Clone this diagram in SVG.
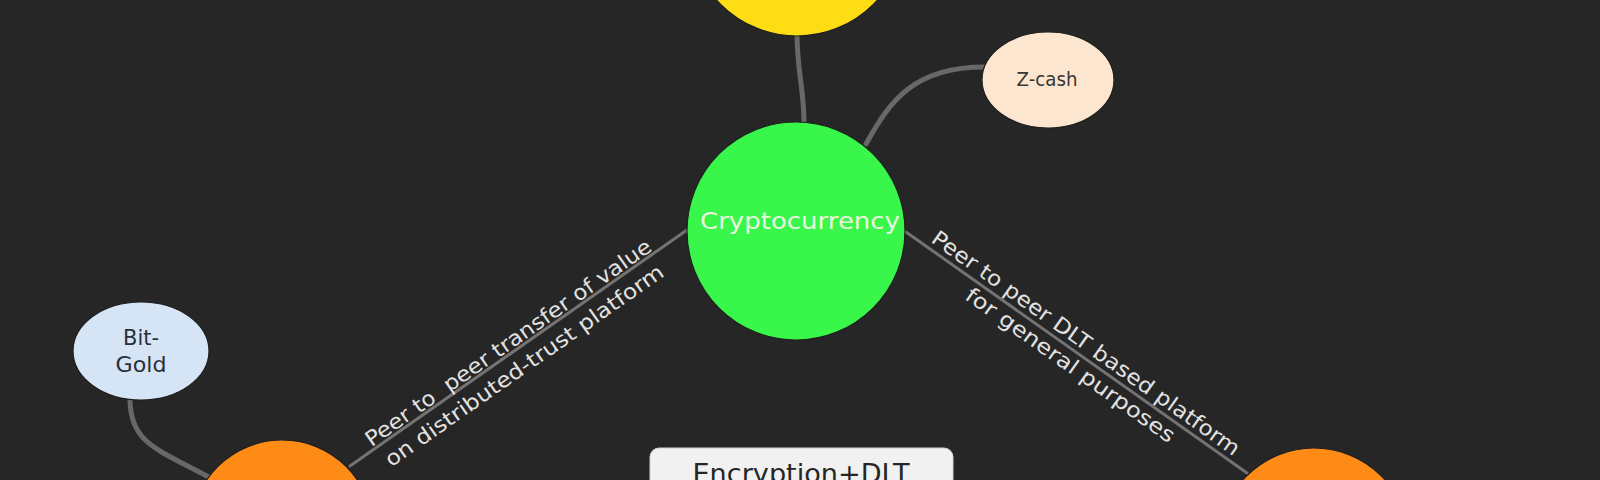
<svg xmlns="http://www.w3.org/2000/svg" width="1600" height="480" viewBox="0 0 1600 480">
<style>
.bg{fill:#262626}
.conn{fill:none;stroke:#686868;stroke-width:5;stroke-linecap:round}
.conn-thin{fill:none;stroke:#737373;stroke-width:3;stroke-linecap:round}
.node{stroke:#1f1f1f;stroke-width:1.2}
.lbl{font-family:"DejaVu Sans","Liberation Sans",sans-serif;font-size:21px;fill:#e2e2e2;text-anchor:middle}
.ntext{font-family:"DejaVu Sans","Liberation Sans",sans-serif;text-anchor:middle}
</style>
<rect class="bg" x="0" y="0" width="1600" height="480"/>
<g id="connectors">
  <path class="conn" d="M 797 34 C 797 70 804 90 804 122"/>
  <path class="conn" d="M 866 144 C 890 100 915 67 984 67"/>
  <path class="conn" d="M 130 399 C 130 445 160 450 214 480"/>
  <line class="conn-thin" x1="687" y1="230" x2="350" y2="466"/>
  <line class="conn-thin" x1="906" y1="232" x2="1247" y2="473"/>
  <g transform="translate(514,351) rotate(-35)">
    <text class="lbl" x="0" y="-3" xml:space="preserve" textLength="344" lengthAdjust="spacingAndGlyphs">Peer to  peer transfer of value</text>
    <text class="lbl" x="0" y="25" textLength="335" lengthAdjust="spacingAndGlyphs">on distributed-trust platform</text>
  </g>
  <g transform="translate(1079,353) rotate(35.3)">
    <text class="lbl" x="0" y="-5" textLength="372" lengthAdjust="spacingAndGlyphs">Peer to peer DLT based platform</text>
    <text class="lbl" x="0" y="22" textLength="251" lengthAdjust="spacingAndGlyphs">for general purposes</text>
  </g>
</g>
<g id="node-yellow">
  <circle class="node" cx="797" cy="-72" r="108" fill="#ffdd14"/>
</g>
<g id="node-cryptocurrency">
  <circle class="node" cx="796" cy="231" r="109" fill="#38f64a"/>
  <text class="ntext" x="800" y="229" font-size="23" fill="#e8f7df" textLength="200" lengthAdjust="spacingAndGlyphs">Cryptocurrency</text>
</g>
<g id="node-zcash">
  <ellipse class="node" cx="1048" cy="80" rx="66" ry="48" fill="#fde6cf"/>
  <text class="ntext" x="1047" y="86" font-size="19" fill="#3a3530" textLength="61" lengthAdjust="spacingAndGlyphs">Z-cash</text>
</g>
<g id="node-bitgold">
  <ellipse class="node" cx="141" cy="351" rx="68" ry="49" fill="#d6e5f5"/>
  <text class="ntext" x="141" y="345" font-size="21" fill="#2a2f38">Bit-</text>
  <text class="ntext" x="141" y="372" font-size="21" fill="#2a2f38" textLength="51" lengthAdjust="spacingAndGlyphs">Gold</text>
</g>
<g id="node-orange-left">
  <circle class="node" cx="282" cy="531" r="91" fill="#ff8b17"/>
</g>
<g id="node-orange-right">
  <circle class="node" cx="1314" cy="543" r="95" fill="#ff8b17"/>
</g>
<g id="node-encryption-dlt">
  <rect x="650" y="448" width="303" height="60" rx="9" ry="9" fill="#f1f1f1" stroke="#d0d0d0" stroke-width="1"/>
  <text class="ntext" x="801" y="483" font-size="27" fill="#262626" textLength="217" lengthAdjust="spacingAndGlyphs">Encryption+DLT</text>
</g>
</svg>
